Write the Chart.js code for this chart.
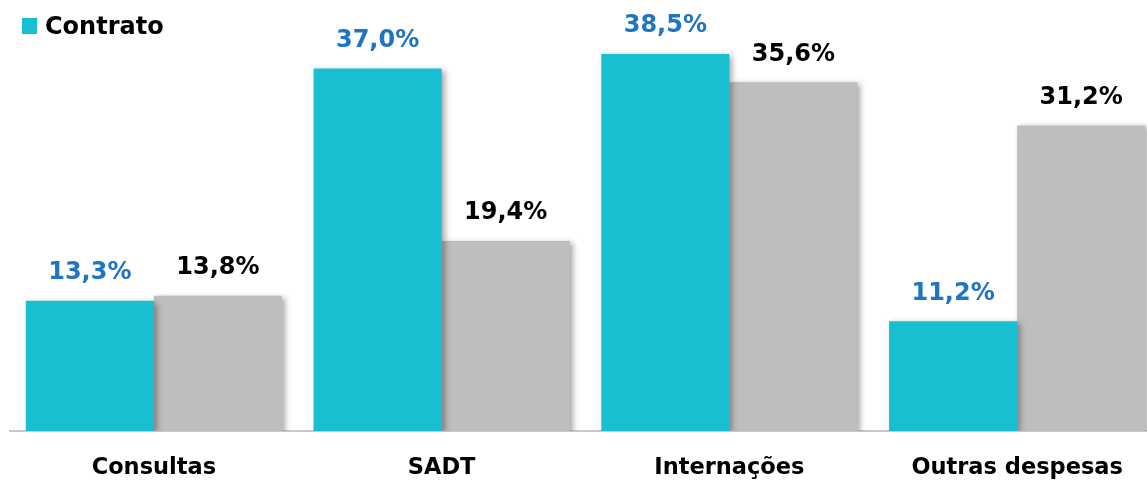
<!DOCTYPE html>
<html>
<head>
<meta charset="utf-8">
<script src="https://cdn.jsdelivr.net/npm/chart.js@4.4.0/dist/chart.umd.min.js"></script>
<style>
    html, body { margin: 0; padding: 0; background: #fff; overflow: hidden; }
    #wrap { position: relative; width: 1161px; height: 481px; }
    #legend {
        position: absolute; left: 22px; top: 12px;
        font: bold 24px "DejaVu Sans", sans-serif; color: #000;
        display: flex; align-items: center;
    }
    #legend span.box { display: inline-block; width: 15px; height: 16px; background: #19BED0; margin-right: 8px; }
</style>
</head>
<body>
<div id="wrap">
    <canvas id="barChart" width="1161" height="481"></canvas>
    <div id="legend"><span class="box"></span>Contrato</div>
</div>
<script>
// ===============================================
// DATOS
// ===============================================
const categorias = ["Consultas", "SADT", "Internações", "Outras despesas"];
const contrato = [13.3, 37.0, 38.5, 11.2];
const realizado = [13.8, 19.4, 35.6, 31.2];

const COLOR_CIANO = "#19BED0";
const COLOR_GRIS = "#BEBEBE";

// ===============================================
// SOMBRA DE LAS BARRAS
// ===============================================
const sombraBarras = {
    id: "sombraBarras",
    beforeDatasetDraw(chart, args) {
        const ctx = chart.ctx;
        ctx.save();
        ctx.shadowColor = "rgba(0,0,0,0.35)";
        ctx.shadowBlur = 6;
        ctx.shadowOffsetX = 3;
        ctx.shadowOffsetY = 2;
    },
    afterDatasetDraw(chart) {
        chart.ctx.restore();
    }
};

// ===============================================
// ETIQUETAS DE VALOR
// ===============================================
const etiquetasValor = {
    id: "etiquetasValor",
    afterDatasetsDraw(chart) {
        const ctx = chart.ctx;
        ctx.save();
        ctx.font = 'bold 24px "DejaVu Sans", sans-serif';
        ctx.textAlign = "center";
        ctx.textBaseline = "middle";
        chart.data.datasets.forEach((ds, i) => {
            const meta = chart.getDatasetMeta(i);
            ctx.fillStyle = i === 0 ? "#1F74C4" : "#000000";
            meta.data.forEach((bar, j) => {
                const txt = ds.data[j].toFixed(1).replace(".", ",") + "%";
                ctx.fillText(txt, bar.x, bar.y - 28);
            });
        });
        ctx.restore();
    }
};

// ===============================================
// GRÁFICA
// ===============================================
const barCtx = document.getElementById("barChart").getContext("2d");

new Chart(barCtx, {
    type: "bar",
    data: {
        labels: categorias,
        datasets: [
            {
                label: "Contrato",
                data: contrato,
                backgroundColor: COLOR_CIANO,
                borderWidth: 0,
                categoryPercentage: 0.89,
                barPercentage: 1.0,
            },
            {
                label: "Realizado",
                data: realizado,
                backgroundColor: COLOR_GRIS,
                borderWidth: 0,
                categoryPercentage: 0.89,
                barPercentage: 1.0,
            },
        ],
    },
    options: {
        responsive: false,
        animation: false,
        layout: { padding: { left: 10, right: 0, top: 0, bottom: -25 } },
        plugins: {
            legend: { display: false },
            tooltip: { enabled: false },
        },
        scales: {
            y: {
                min: 0,
                max: 44,
                display: false,
            },
            x: {
                grid: { display: false, drawTicks: false },
                border: { display: true, color: "#C8C8C8", width: 2 },
                ticks: {
                    color: "#000",
                    padding: 24,
                    font: { family: "DejaVu Sans", size: 22.5, weight: "bold" },
                },
            },
        },
    },
    plugins: [sombraBarras, etiquetasValor],
});
</script>
</body>
</html>
